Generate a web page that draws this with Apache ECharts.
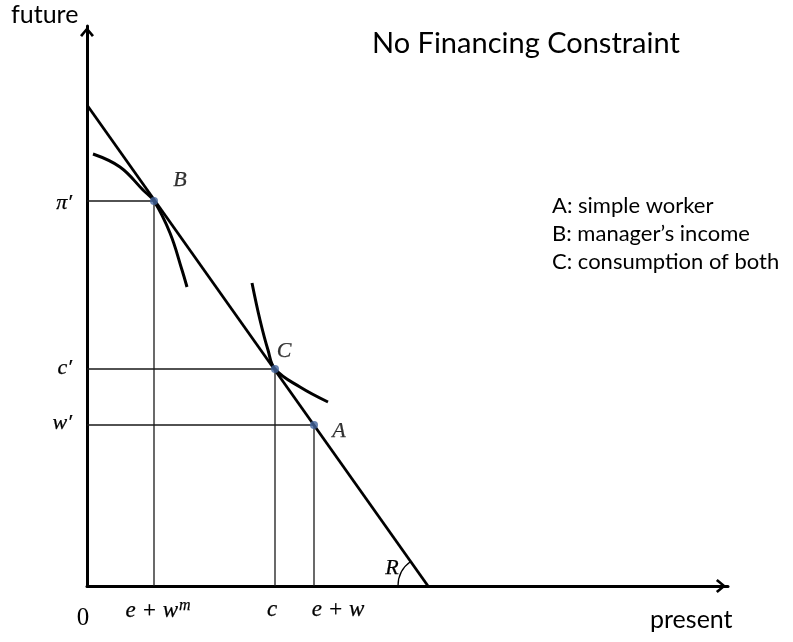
<!DOCTYPE html>
<html><head><meta charset="utf-8">
<script src="https://cdn.jsdelivr.net/npm/echarts@6/dist/echarts.min.js"></script>
<style>html,body{margin:0;background:#fff}#c{width:793px;height:642px}</style>
</head><body><div id="c"></div><script>
// budget line endpoints (present, future)
const budgetLine = [[0, 481], [341, 0]];
// indifference / frontier curves
const curveB = [[6, 432], [33, 419], [56, 396], [67, 385], [83, 353], [95, 316], [100, 299]];
const curveC = [[165, 303], [173, 266], [181, 236], [188, 217], [213, 199], [241, 184]];
// points
const pointNames = ['B', 'C', 'A'];
const pointX = [67, 188, 227];
const pointY = [385, 217, 161];
// tick labels
const xTickValues = [71, 185, 251];
const xTickLabels = ['{i|e + w}{s|m}', '{i|c}', '{i|e + w}'];
const yTickValues = [383, 218, 163];
const yTickLabels = ['π′', 'c′', 'w′'];
const legendLines = ['A: simple worker', 'B: manager’s income', 'C: consumption of both'];

const mathFont = '"Liberation Serif", "DejaVu Serif", serif';
const sansFont = 'Lato, "Liberation Sans", sans-serif';
const chevron = 'path://M0,12 L10,0 L20,12 L17,14.5 L10,5.5 L3,14.5 Z';
const bold = {textBorderColor: '#000', textBorderWidth: 0.25};

const chart = echarts.init(document.getElementById('c'), null, {renderer: 'canvas'});

const labelOffsets = {B: [26, -21], C: [9, -18], A: [25, 6]};

const series = [];
pointNames.forEach((n, i) => {
  series.push({
    type: 'line', silent: true, symbol: 'none', z: 1,
    data: [[0, pointY[i]], [pointX[i], pointY[i]], [pointX[i], 0]],
    lineStyle: {color: '#1a1a1a', width: 1.3}
  });
});
series.push({
  type: 'line', silent: true, symbol: 'none', z: 2,
  data: budgetLine, lineStyle: {color: '#000', width: 2.8}
});
series.push({
  type: 'line', silent: true, symbol: 'none', smooth: 0.4, z: 2,
  data: curveB, lineStyle: {color: '#000', width: 3}
});
series.push({
  type: 'line', silent: true, symbol: 'none', smooth: 0.4, z: 2,
  data: curveC, lineStyle: {color: '#000', width: 3}
});
series.push({
  type: 'scatter', silent: true, z: 5, symbolSize: 8,
  itemStyle: {color: '#44659e'},
  data: pointNames.map((n, i) => ({
    value: [pointX[i], pointY[i]], name: n,
    label: Object.assign({show: true, formatter: n, position: 'inside', offset: labelOffsets[n],
      fontFamily: mathFont, fontStyle: 'italic', fontSize: 22, color: '#000'}, bold)
  }))
});
series.push({
  type: 'custom', silent: true, clip: false, z: 3,
  data: [[budgetLine[1][0], budgetLine[1][1], budgetLine[0][0], budgetLine[0][1]]],
  renderItem: (params, api) => {
    const p0 = api.coord([api.value(0), api.value(1)]);
    const p1 = api.coord([api.value(2), api.value(3)]);
    const ang = Math.atan2(p1[1] - p0[1], p1[0] - p0[0]) + 2 * Math.PI;
    return {type: 'group', children: [
      {type: 'arc', shape: {cx: p0[0], cy: p0[1], r: 30, startAngle: Math.PI, endAngle: ang, clockwise: true},
        style: {stroke: '#000', fill: null, lineWidth: 1.3}},
      {type: 'text', x: p0[0] - 36, y: p0[1] - 18,
        style: {text: 'R', font: 'italic 22px ' + mathFont, textAlign: 'center', textVerticalAlign: 'middle', fill: '#000', stroke: '#000', lineWidth: 0.25}}
    ]};
  }
});

chart.setOption({
  animation: false,
  backgroundColor: '#fff',
  title: {
    text: 'No Financing Constraint', left: 367, top: 24,
    textStyle: {fontFamily: sansFont, fontWeight: 'normal', fontSize: 29, color: '#000'}
  },
  grid: {left: 87, right: 65, top: 26, bottom: 56, containLabel: false},
  xAxis: {
    type: 'value', min: 0, max: 641,
    splitLine: {show: false}, axisTick: {show: false},
    axisLine: {show: true, onZero: false, lineStyle: {color: '#000', width: 3},
      symbol: ['none', chevron], symbolSize: [14, 15], symbolOffset: [0, -7]},
    axisLabel: {
      customValues: xTickValues, margin: 12, color: '#000',
      formatter: v => xTickLabels[xTickValues.indexOf(v)] || '',
      rich: {
        i: Object.assign({fontFamily: mathFont, fontStyle: 'italic', fontSize: 23, color: '#000'}, bold),
        s: Object.assign({fontFamily: mathFont, fontStyle: 'italic', fontSize: 16, color: '#000', verticalAlign: 'top', padding: [0, 0, 10, 1]}, bold)
      }
    }
  },
  yAxis: {
    type: 'value', min: 0, max: 560,
    splitLine: {show: false}, axisTick: {show: false},
    axisLine: {show: true, onZero: false, lineStyle: {color: '#000', width: 3},
      symbol: ['none', chevron], symbolSize: [14, 13], symbolOffset: [0, -6]},
    axisLabel: Object.assign({
      customValues: yTickValues, margin: 15, color: '#000',
      fontFamily: mathFont, fontStyle: 'italic', fontSize: 22,
      formatter: v => yTickLabels[yTickValues.indexOf(v)] || ''
    }, bold)
  },
  graphic: [
    {type: 'text', x: 11, y: 15, style: {text: 'future', font: '25px ' + sansFont, fill: '#000', textVerticalAlign: 'middle'}},
    {type: 'text', x: 650, y: 620, style: {text: 'present', font: '25px ' + sansFont, fill: '#000', textVerticalAlign: 'middle'}},
    {type: 'text', x: 83, y: 618, style: {text: '0', font: '25px ' + mathFont, fill: '#000', textAlign: 'center', textVerticalAlign: 'middle'}},
    ...legendLines.map((t, i) => ({type: 'text', x: 552, y: 206 + i * 28,
      style: {text: t, font: '22px ' + sansFont, fill: '#000', textVerticalAlign: 'middle'}}))
  ],
  series: series
});
</script></body></html>
